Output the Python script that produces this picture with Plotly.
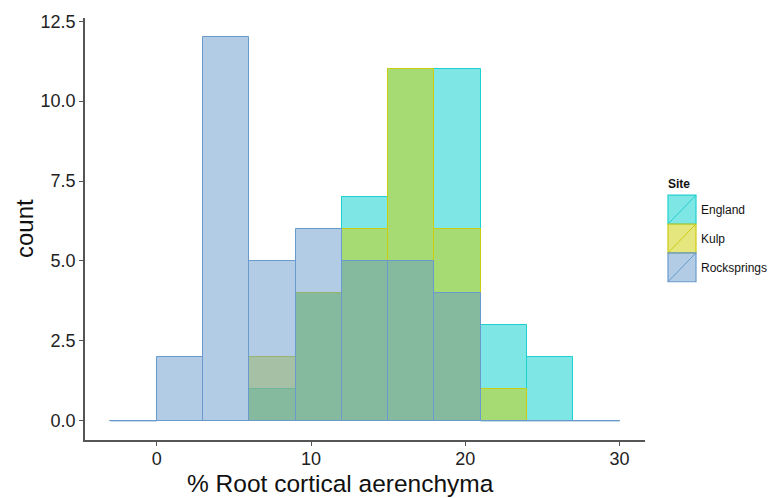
import plotly.graph_objects as go

# Histogram bins (width 3) and counts per site
bin_edges = [-3, 0, 3, 6, 9, 12, 15, 18, 21, 24, 27, 30]
england = [0, 0, 0, 1, 4, 7, 11, 11, 3, 2, 0]
kulp = [0, 0, 0, 2, 4, 6, 11, 6, 1, 0, 0]
rocksprings = [0, 2, 12, 5, 6, 5, 5, 4, 0, 0, 0]
sites = ["England", "Kulp", "Rocksprings"]
y_ticks = [0.0, 2.5, 5.0, 7.5, 10.0, 12.5]
x_ticks = [0, 10, 20, 30]

fills = {"England": "rgba(0,205,205,0.5)", "Kulp": "rgba(205,205,0,0.5)",
         "Rocksprings": "rgba(102,153,204,0.5)"}
lines = {"England": "#1fd0d0", "Kulp": "#cccc10", "Rocksprings": "#6a9acd"}
data = {"England": england, "Kulp": kulp, "Rocksprings": rocksprings}

centers = [(a + b) / 2 for a, b in zip(bin_edges[:-1], bin_edges[1:])]
widths = [b - a for a, b in zip(bin_edges[:-1], bin_edges[1:])]

fig = go.Figure()
for s in sites:
    counts = data[s]
    fig.add_trace(go.Bar(x=centers, y=counts, width=widths,
                         marker=dict(color=fills[s], line=dict(color=lines[s], width=1)),
                         showlegend=False, hoverinfo="skip"))

# zero-count bins of the top-most (last drawn) site appear as a flat outline at y=0
top = sites[-1]
zx, zy = [], []
for i, c in enumerate(data[top]):
    if c == 0:
        zx += [bin_edges[i], bin_edges[i + 1], None]
        zy += [0, 0, None]
fig.add_trace(go.Scatter(x=zx, y=zy, mode="lines",
                         line=dict(color=lines[top], width=1.3), opacity=0.75,
                         showlegend=False, hoverinfo="skip"))

fig.update_layout(
    width=770, height=498, barmode="overlay", bargap=0,
    plot_bgcolor="white", paper_bgcolor="white",
    margin=dict(l=85, r=125, t=16, b=58),
    font=dict(family="Liberation Sans, Arial, sans-serif", color="#1a1a1a"),
    xaxis=dict(range=[-4.65, 31.65], tickvals=x_ticks, ticktext=[str(v) for v in x_ticks],
               showgrid=False, zeroline=False, showline=True, linecolor="#555", linewidth=1.5,
               ticks="outside", ticklen=4, tickcolor="#555", tickwidth=1.2,
               ticklabelstandoff=-2,
               tickfont=dict(size=18, color="#222")),
    yaxis=dict(range=[-0.6, 12.6], tickvals=y_ticks, ticktext=[f"{v:.1f}" for v in y_ticks],
               showgrid=False, zeroline=False, showline=True, linecolor="#555", linewidth=1.5,
               ticks="outside", ticklen=4, tickcolor="#555", tickwidth=1.2,
               tickfont=dict(size=18, color="#222")),
)

def px(x):
    return (x - 85) / 560

def py(y):
    return (440 - y) / 424

annotations = [
    dict(text="% Root cortical aerenchyma", x=px(340), y=py(484), xref="paper", yref="paper",
         showarrow=False, font=dict(size=24.5, color="#111"), xanchor="center", yanchor="middle"),
    dict(text="count", x=px(24), y=py(228), xref="paper", yref="paper", textangle=-90,
         showarrow=False, font=dict(size=24, color="#111"), xanchor="center", yanchor="middle"),
    dict(text="<b>Site</b>", x=px(666), y=py(183), xref="paper", yref="paper",
         showarrow=False, font=dict(size=12, color="#111"), xanchor="left", yanchor="middle"),
]
shapes = []
key_tops = [194, 223, 252]
for s, top_px in zip(sites, key_tops):
    x0, x1, y0, y1 = 668, 696, top_px + 29, top_px
    shapes.append(dict(type="rect", xref="paper", yref="paper",
                       x0=px(x0), x1=px(x1), y0=py(y0), y1=py(y1),
                       fillcolor=fills[s], line=dict(color=lines[s], width=1.2)))
    shapes.append(dict(type="line", xref="paper", yref="paper",
                       x0=px(x0), x1=px(x1), y0=py(y0), y1=py(y1),
                       line=dict(color=lines[s], width=1)))
    annotations.append(dict(text=s, x=px(699), y=py(top_px + 15), xref="paper", yref="paper",
                            showarrow=False, font=dict(size=12, color="#111"),
                            xanchor="left", yanchor="middle"))
fig.update_layout(annotations=annotations, shapes=shapes)

fig.write_html("out.html", config={"displayModeBar": False},
               post_script="document.body.style.margin='0';document.body.style.overflow='hidden';")
